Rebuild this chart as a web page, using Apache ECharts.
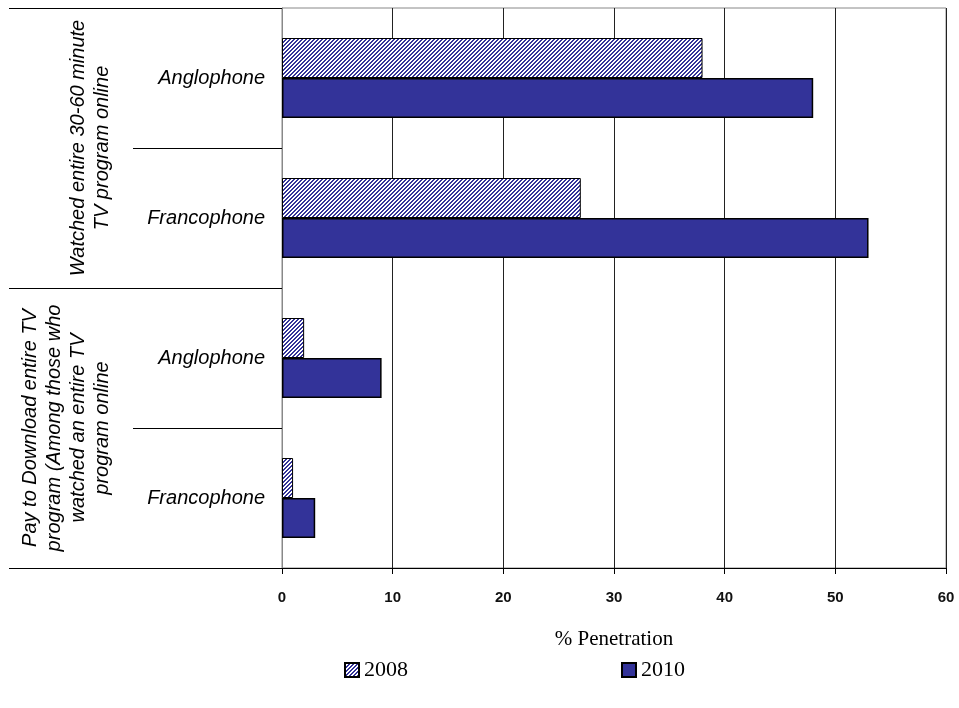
<!DOCTYPE html>
<html>
<head>
<meta charset="utf-8">
<script src="https://cdn.jsdelivr.net/npm/echarts@6/dist/echarts.min.js"></script>
<style>
html,body{margin:0;padding:0;background:#fff;}
#main{width:959px;height:708px;}
</style>
</head>
<body>
<div id="main"></div>
<script>
const subCategories = ['Anglophone', 'Francophone', 'Anglophone', 'Francophone'];
const groupLabels = [
  'Watched entire 30-60 minute\nTV program online',
  'Pay to Download entire TV\nprogram (Among those who\nwatched an entire TV\nprogram online'
];
const values2008 = [38, 27, 2, 1];
const values2010 = [48, 53, 9, 3];
const xTicks = [0, 10, 20, 30, 40, 50, 60];
const seriesNames = ['2008', '2010'];

function makeHatch() {
  const c = document.createElement('canvas');
  c.width = 4; c.height = 4;
  const ctx = c.getContext('2d');
  const img = ctx.createImageData(4, 4);
  for (let y = 0; y < 4; y++) {
    for (let x = 0; x < 4; x++) {
      const i = (y * 4 + x) * 4;
      const on = ((x + y) % 4) < 2;
      img.data[i] = on ? 0x33 : 255;
      img.data[i + 1] = on ? 0x33 : 255;
      img.data[i + 2] = on ? 0x99 : 255;
      img.data[i + 3] = 255;
    }
  }
  ctx.putImageData(img, 0, 0);
  return c;
}
const hatch = { image: makeHatch(), repeat: 'repeat' };

const chart = echarts.init(document.getElementById('main'));
chart.setOption({
  animation: false,
  backgroundColor: '#fff',
  grid: { left: 282, right: 13, top: 8, bottom: 140, show: true, borderColor: '#888', borderWidth: 1 },
  legend: {
    left: 339, top: 654, itemWidth: 14, itemHeight: 14, itemGap: 213,
    data: seriesNames,
    icon: 'rect',
    textStyle: { fontFamily: 'Liberation Serif', fontSize: 22, color: '#000' }
  },
  xAxis: {
    type: 'value', min: xTicks[0], max: xTicks[xTicks.length - 1], interval: 10,
    axisLine: { show: true, lineStyle: { color: '#000', width: 1 } },
    axisTick: { show: true, length: 6, lineStyle: { color: '#000' } },
    axisLabel: { margin: 22, fontFamily: 'Liberation Sans', fontSize: 15, fontWeight: 'bold', color: '#111' },
    splitLine: { show: true, lineStyle: { color: '#222', width: 1 } },
    name: '% Penetration', nameLocation: 'middle', nameGap: 61,
    nameTextStyle: { fontFamily: 'Liberation Serif', fontSize: 21, color: '#000' }
  },
  yAxis: [
    {
      type: 'category', data: subCategories, inverse: true,
      axisLine: { show: true, lineStyle: { color: '#888', width: 1 } },
      axisTick: { show: true, length: 149, lineStyle: { color: '#000' } },
      axisLabel: { interval: 0, margin: 17, fontFamily: 'Liberation Sans', fontSize: 20, fontStyle: 'italic', color: '#000' }
    },
    {
      type: 'category', data: groupLabels, inverse: true, position: 'left',
      axisLine: { show: false },
      axisTick: { show: true, length: 273, lineStyle: { color: '#000' } },
      axisLabel: { interval: 0, hideOverlap: false, rotate: 90, margin: 168, lineHeight: 24, fontFamily: 'Liberation Sans', fontSize: 20, fontStyle: 'italic', color: '#000' }
    }
  ],
  series: [
    {
      name: seriesNames[0], type: 'bar', yAxisIndex: 0, data: values2008,
      barWidth: 40, barGap: '0%',
      itemStyle: { color: hatch, borderColor: '#000', borderWidth: 1 }
    },
    {
      name: seriesNames[1], type: 'bar', yAxisIndex: 0, data: values2010,
      barWidth: 40, barGap: '0%',
      itemStyle: { color: '#333399', borderColor: '#000', borderWidth: 1.5 }
    }
  ]
});
</script>
</body>
</html>
